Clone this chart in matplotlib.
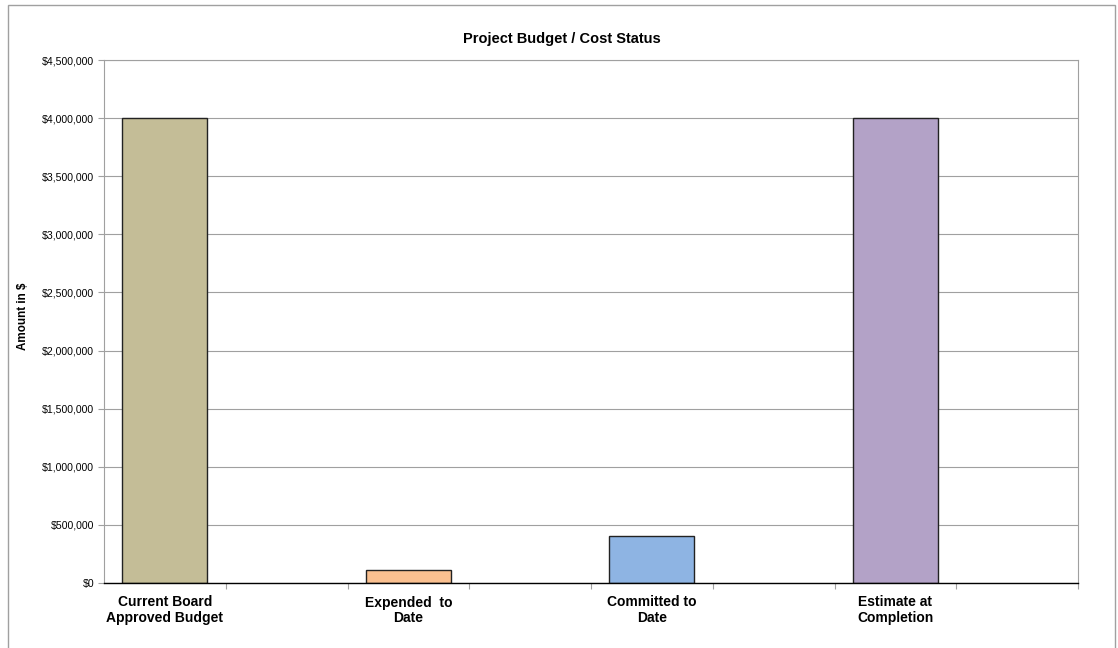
import numpy as np
import matplotlib
matplotlib.use("Agg")
import matplotlib.pyplot as plt
from matplotlib.ticker import FuncFormatter, MultipleLocator
from matplotlib.patches import Rectangle

categories = ["Current Board\nApproved Budget", "", "Expended  to\nDate", "",
              "Committed to\nDate", "", "Estimate at\nCompletion", ""]
values = [4000000, np.nan, 112000, np.nan, 404000, np.nan, 4000000, np.nan]
colors = ["#C4BD97", "#FFFFFF", "#FAC090", "#FFFFFF", "#8EB4E3", "#FFFFFF", "#B3A2C7", "#FFFFFF"]
title = "Project Budget / Cost Status"
ylabel = "Amount in $"

plt.rcParams['font.family'] = ['Liberation Sans', 'DejaVu Sans']

fig = plt.figure(figsize=(11.18, 6.48), dpi=100)
fig.patches.append(Rectangle((8/1118, -10/648), 1107/1118, 653/648, transform=fig.transFigure,
                             fill=False, edgecolor="#A0A0A0", linewidth=1))
ax = fig.add_axes([104/1118, 65/648, 974/1118, 523/648])

x = np.arange(len(categories))
ax.bar(x, values, width=0.70, color=colors, edgecolor="#222222", linewidth=1.0, zorder=3)

ax.set_xlim(-0.5, len(categories) - 0.5)
ax.set_ylim(0, 4500000)
ax.yaxis.set_major_locator(MultipleLocator(500000))
ax.yaxis.set_major_formatter(FuncFormatter(lambda v, p: "${:,.0f}".format(v)))
ax.grid(axis="y", color="#A0A0A0", linewidth=0.8, zorder=0)
ax.tick_params(axis="y", labelsize=7.6, colors="#A0A0A0", labelcolor="black", length=4, width=0.8, pad=3)

ax.set_xticks(x)
ax.set_xticklabels(categories, fontsize=10, fontweight="bold", linespacing=1.1)
ax.tick_params(axis="x", length=0, pad=9)
ax.set_xticks(np.arange(len(categories)) + 0.5, minor=True)
ax.tick_params(axis="x", which="minor", length=4, width=0.8, color="#A0A0A0")

for s in ["left", "top", "right"]:
    ax.spines[s].set_color("#A0A0A0")
    ax.spines[s].set_linewidth(0.8)
ax.spines["bottom"].set_color("black")
ax.spines["bottom"].set_linewidth(1.0)
ax.spines["bottom"].set_zorder(4)

fig.text(562/1118, 1 - 39/648, title, ha="center", va="center", fontsize=10.5, fontweight="bold")
fig.text(23/1118, 1 - 316/648, ylabel, ha="center", va="center", rotation=90, fontsize=8.4, fontweight="bold")

fig.savefig("out.png", dpi=100)
